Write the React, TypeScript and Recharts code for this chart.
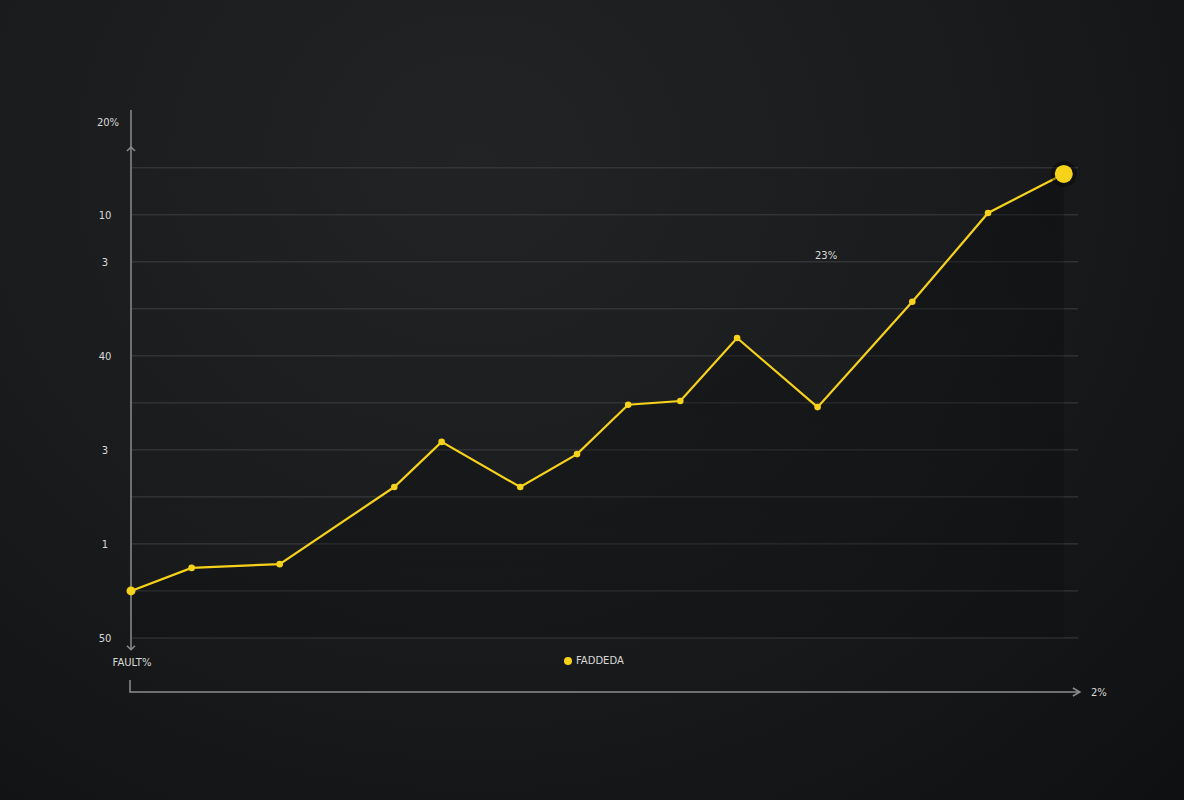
import React from "react";
import {
  Area,
  ComposedChart,
  CartesianGrid,
  Legend,
  Line,
  ReferenceDot,
  ReferenceLine,
  XAxis,
  YAxis,
} from "recharts";

// positions along the x axis (0-100) and values of the series
const xPositions = [0, 6.4, 15.7, 27.8, 32.8, 41.1, 47.1, 52.5, 58.0, 64.0, 72.5, 82.5, 90.5, 98.5];
const seriesValues = [10.0, 14.9, 15.7, 32.1, 41.7, 32.1, 39.1, 49.6, 50.4, 63.8, 49.1, 71.5, 90.4, 98.7];

// grid ticks and the (odd) labels printed next to some of them
const yTicks = [0, 10, 20, 30, 40, 50, 60, 70, 80, 90, 100];
const yTickLabels: Record<number, string> = { 0: "50", 20: "1", 40: "3", 60: "40", 80: "3", 90: "10" };

const seriesName = "FADDEDA";
const yAxisTitle = "20%";
const yAxisFoot = "FAULT%";
const xAxisEnd = "2%";
const note = { x: 73.4, y: 81.3, text: "23%" };

const data = xPositions.map((x, i) => ({ x, value: seriesValues[i] }));

const YELLOW = "#f6d21b";
const AXIS = "#8c8d8f";
const TEXT = "#d8d8d8";
const FONT = "DejaVu Sans, sans-serif";

const YTick = (props: any) => {
  const label = yTickLabels[props.payload.value];
  if (!label) return null;
  return (
    <text x={props.x - 18} y={props.y} dy={4} textAnchor="middle" fill={TEXT} fontSize={10} fontFamily={FONT}>
      {label}
    </text>
  );
};

const Dot = (props: any) => {
  const { cx, cy, index } = props;
  if (cx == null || cy == null) return null;
  if (index === data.length - 1) {
    return (
      <g key={index}>
        <circle cx={cx} cy={cy} r={13} fill="#000" opacity={0.35} />
        <circle cx={cx} cy={cy} r={9} fill={YELLOW} />
      </g>
    );
  }
  return <circle key={index} cx={cx} cy={cy} r={index === 0 ? 4.5 : 3.3} fill={YELLOW} />;
};

// vertical axis with arrows
const YAxisShape = (props: any) => {
  const { x1, y1, y2 } = props;
  const bottom = Math.max(y1, y2);
  const top = Math.min(y1, y2);
  const up = top + 37;
  return (
    <g>
      <line x1={x1} y1={top} x2={x1} y2={bottom} stroke={AXIS} strokeWidth={1.5} />
      <path d={`M${x1 - 4},${up + 4} L${x1},${up} L${x1 + 4},${up + 4}`} stroke={AXIS} fill="none" strokeWidth={1.5} />
      <path d={`M${x1 - 4},${bottom - 4} L${x1},${bottom} L${x1 + 4},${bottom - 4}`} stroke={AXIS} fill="none" strokeWidth={1.5} />
      <text x={x1 + 1} y={bottom + 16} textAnchor="middle" fill={TEXT} fontSize={10} fontFamily={FONT}>
        {yAxisFoot}
      </text>
    </g>
  );
};

// horizontal axis with arrow
const XAxisShape = (props: any) => {
  const { x1, y1, x2 } = props;
  return (
    <g>
      <path d={`M${x1 - 1},${y1 - 12} L${x1 - 1},${y1} L${x2},${y1}`} stroke={AXIS} fill="none" strokeWidth={1.5} />
      <path d={`M${x2 - 7},${y1 - 4} L${x2},${y1} L${x2 - 7},${y1 + 4}`} stroke={AXIS} fill="none" strokeWidth={1.5} />
      <text x={x2 + 19} y={y1 + 4} textAnchor="middle" fill={TEXT} fontSize={10} fontFamily={FONT}>
        {xAxisEnd}
      </text>
    </g>
  );
};

const LegendContent = () => (
  <div style={{ display: "flex", alignItems: "center", fontFamily: FONT, fontSize: 10, color: TEXT }}>
    <span style={{ width: 8, height: 8, borderRadius: 4, background: YELLOW, marginRight: 4, display: "inline-block" }} />
    {seriesName}
  </div>
);

export default function App() {
  return (
    <div
      style={{
        position: "absolute",
        left: 0,
        top: 0,
        width: 1184,
        height: 800,
        overflow: "hidden",
        background: "radial-gradient(ellipse at 40% 20%, #212325 0%, #1a1b1d 50%, #0f1011 100%)",
      }}
    >
      <ComposedChart
        width={1184}
        height={800}
        data={data}
        margin={{ top: 110, right: 106, bottom: 108, left: 91 }}
      >
        <defs>
          <linearGradient id="under" x1="0" y1="0" x2="0" y2="1">
            <stop offset="0%" stopColor="#08090a" stopOpacity={0.6} />
            <stop offset="100%" stopColor="#08090a" stopOpacity={0.35} />
          </linearGradient>
        </defs>
        <CartesianGrid vertical={false} stroke="#3d3f42" strokeWidth={1} horizontalValues={yTicks} />
        <XAxis type="number" dataKey="x" domain={[0, 100]} hide />
        <YAxis
          type="number"
          domain={[-11.5, 112.3]}
          ticks={yTicks}
          width={40}
          axisLine={false}
          tickLine={false}
          tick={<YTick />}
          interval={0}
          label={{
            content: (p: any) => (
              <text x={p.viewBox.x + 17} y={p.viewBox.y + 16} textAnchor="middle" fill={TEXT} fontSize={10} fontFamily={FONT}>
                {yAxisTitle}
              </text>
            ),
          }}
        />
        <ReferenceLine
          segment={[{ x: 0, y: -2.5 }, { x: 0, y: 112.3 }]}
          ifOverflow="visible"
          shape={<YAxisShape />}
        />
        <ReferenceLine
          segment={[{ x: 0, y: -11.5 }, { x: 100.2, y: -11.5 }]}
          ifOverflow="visible"
          shape={<XAxisShape />}
        />
        <Area
          type="linear"
          dataKey="value"
          stroke="none"
          fill="url(#under)"
          baseValue={0}
          isAnimationActive={false}
          legendType="none"
        />
        <Line
          type="linear"
          dataKey="value"
          name={seriesName}
          stroke={YELLOW}
          strokeWidth={2.2}
          dot={<Dot />}
          activeDot={false}
          isAnimationActive={false}
        />
        <ReferenceDot
          x={note.x}
          y={note.y}
          r={0}
          stroke="none"
          label={{ value: note.text, position: "center", fill: TEXT, fontSize: 10, fontFamily: FONT }}
        />
        <Legend
          layout="horizontal"
          verticalAlign="middle"
          align="center"
          content={<LegendContent />}
          wrapperStyle={{ position: "absolute", left: 564, top: 655, width: "auto" }}
        />
      </ComposedChart>
    </div>
  );
}
